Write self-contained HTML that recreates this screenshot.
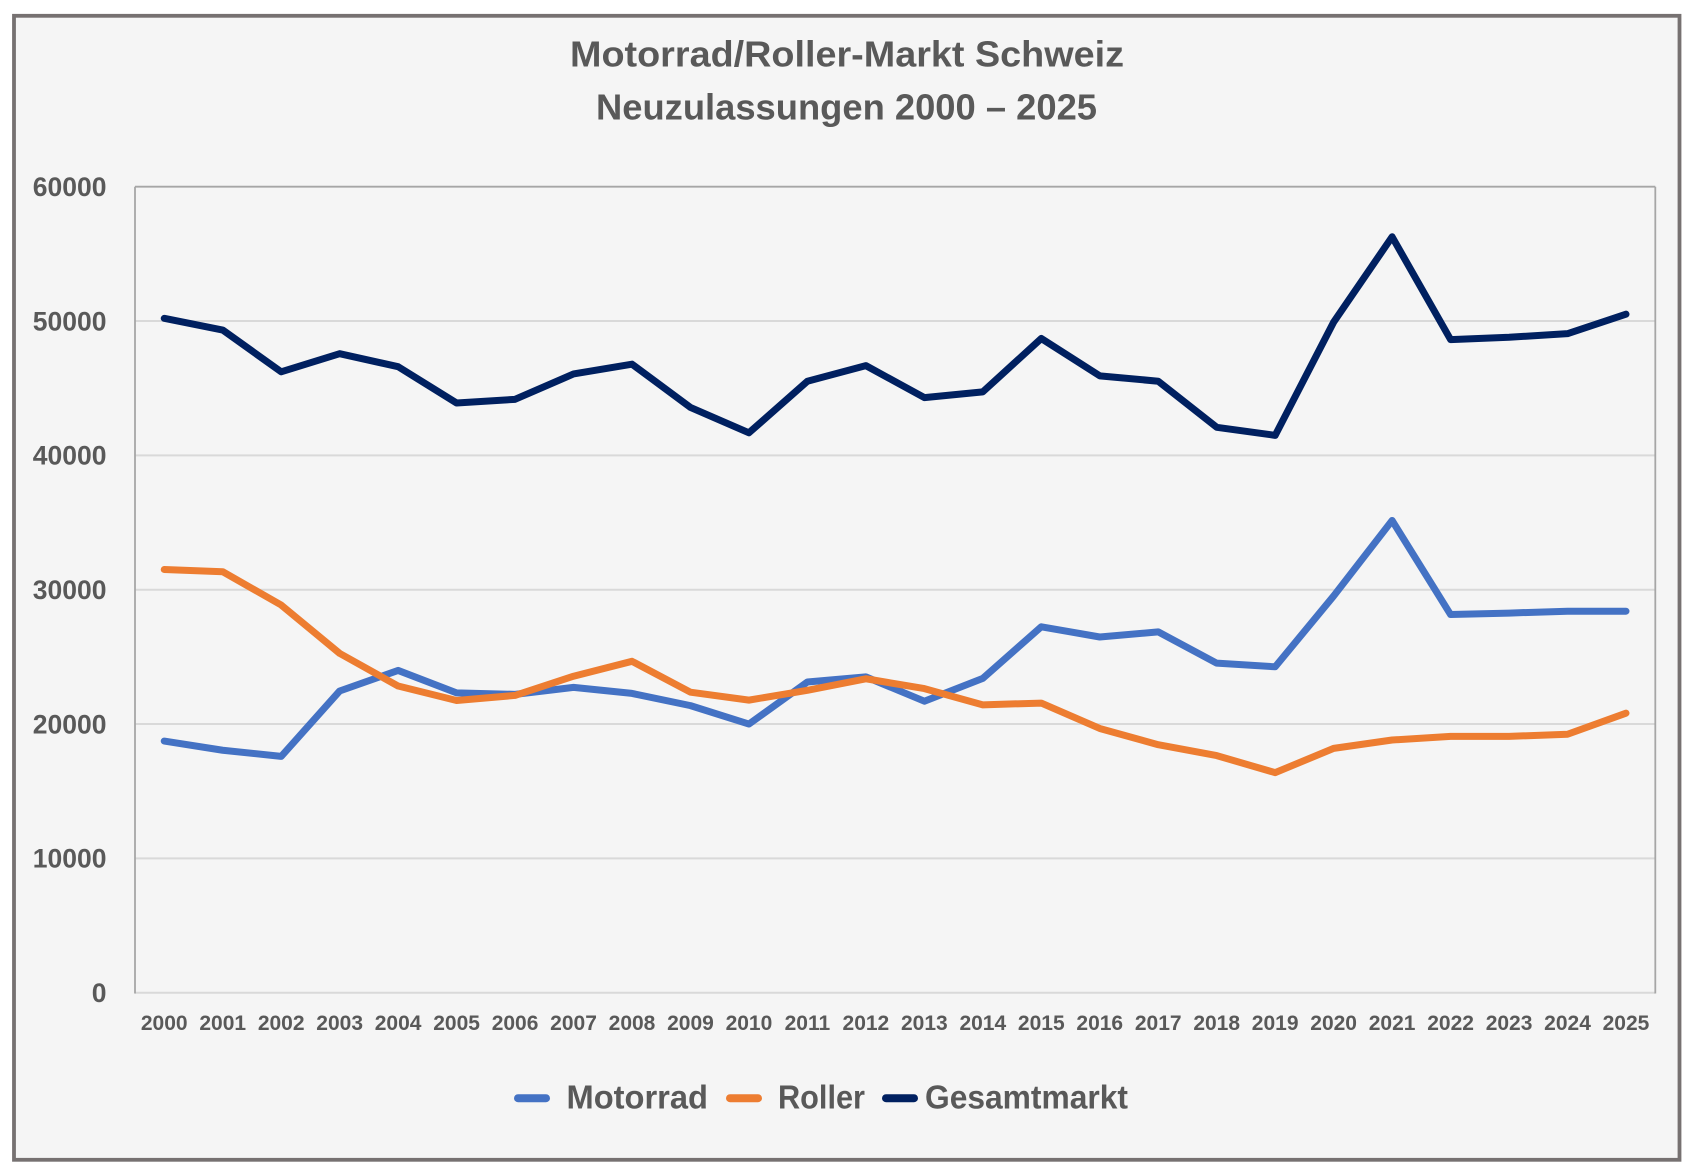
<!DOCTYPE html>
<html>
<head>
<meta charset="utf-8">
<style>
html,body{margin:0;padding:0;background:#ffffff;}
svg{display:block;}
text{font-family:"Liberation Sans",Arial,sans-serif;font-weight:bold;fill:#595959;}
</style>
</head>
<body>
<svg width="1696" height="1174" viewBox="0 0 1696 1174" xmlns="http://www.w3.org/2000/svg">
  <rect x="0" y="0" width="1696" height="1174" fill="#ffffff"/>
  <rect x="14" y="15.8" width="1665.5" height="1144" fill="#f5f5f5" stroke="#767171" stroke-width="3.8"/>

  <!-- Title -->
  <text x="847" y="66.7" font-size="36.5" text-anchor="middle" textLength="554" lengthAdjust="spacingAndGlyphs">Motorrad/Roller-Markt Schweiz</text>
  <text x="846.5" y="119.3" font-size="36" text-anchor="middle" textLength="501" lengthAdjust="spacingAndGlyphs">Neuzulassungen 2000 – 2025</text>

  <!-- Gridlines -->
  <g stroke="#d9d9d9" stroke-width="2" fill="none">
    <line x1="135" y1="858.37" x2="1655" y2="858.37"/>
    <line x1="135" y1="724.03" x2="1655" y2="724.03"/>
    <line x1="135" y1="589.70" x2="1655" y2="589.70"/>
    <line x1="135" y1="455.37" x2="1655" y2="455.37"/>
    <line x1="135" y1="321.03" x2="1655" y2="321.03"/>
    <line x1="135" y1="992.7" x2="1655" y2="992.7"/>
  </g>
  <!-- Plot border -->
  <g stroke="#a6a6a6" stroke-width="1.8" fill="none">
    <line x1="135" y1="186.7" x2="1655.3" y2="186.7"/>
    <line x1="135" y1="186.7" x2="135" y2="993.5"/>
    <line x1="1655.3" y1="186.7" x2="1655.3" y2="993.5"/>
  </g>

  <!-- Y labels -->
  <g font-size="26.5" text-anchor="end">
    <text x="106.5" y="1002">0</text>
    <text x="106.5" y="867.6">10000</text>
    <text x="106.5" y="733.3">20000</text>
    <text x="106.5" y="599">30000</text>
    <text x="106.5" y="464.6">40000</text>
    <text x="106.5" y="330.3">50000</text>
    <text x="106.5" y="196">60000</text>
  </g>

  <!-- X labels -->
  <g font-size="21" text-anchor="middle">
    <text x="164.24" y="1030">2000</text>
    <text x="222.71" y="1030">2001</text>
    <text x="281.18" y="1030">2002</text>
    <text x="339.65" y="1030">2003</text>
    <text x="398.12" y="1030">2004</text>
    <text x="456.59" y="1030">2005</text>
    <text x="515.06" y="1030">2006</text>
    <text x="573.53" y="1030">2007</text>
    <text x="632.00" y="1030">2008</text>
    <text x="690.47" y="1030">2009</text>
    <text x="748.94" y="1030">2010</text>
    <text x="807.41" y="1030">2011</text>
    <text x="865.88" y="1030">2012</text>
    <text x="924.35" y="1030">2013</text>
    <text x="982.82" y="1030">2014</text>
    <text x="1041.29" y="1030">2015</text>
    <text x="1099.76" y="1030">2016</text>
    <text x="1158.23" y="1030">2017</text>
    <text x="1216.70" y="1030">2018</text>
    <text x="1275.17" y="1030">2019</text>
    <text x="1333.64" y="1030">2020</text>
    <text x="1392.11" y="1030">2021</text>
    <text x="1450.58" y="1030">2022</text>
    <text x="1509.05" y="1030">2023</text>
    <text x="1567.52" y="1030">2024</text>
    <text x="1625.99" y="1030">2025</text>
  </g>

  <!-- Series -->
  <g fill="none" stroke-width="7" stroke-linejoin="round" stroke-linecap="round">
    <polyline stroke="#4472C4" points="164.24,741.09 222.71,750.23 281.18,756.41 339.65,690.99 398.12,670.43 456.59,692.87 515.06,694.35 573.53,687.36 632.00,693.41 690.47,705.63 748.94,724.03 807.41,681.99 865.88,676.88 924.35,701.20 982.82,678.36 1041.29,626.78 1099.76,636.99 1158.23,631.88 1216.70,663.18 1275.17,666.81 1333.64,596.01 1392.11,520.52 1450.58,614.55 1509.05,613.07 1567.52,611.19 1625.99,611.19"/>
    <polyline stroke="#ED7D31" points="164.24,569.55 222.71,571.70 281.18,605.01 339.65,653.37 398.12,686.02 456.59,700.53 515.06,695.42 573.53,676.21 632.00,661.30 690.47,692.20 748.94,700.12 807.41,690.32 865.88,678.76 924.35,688.57 982.82,704.82 1041.29,703.08 1099.76,728.47 1158.23,744.72 1216.70,755.60 1275.17,772.66 1333.64,748.35 1392.11,740.02 1450.58,736.39 1509.05,736.39 1567.52,734.24 1625.99,713.15"/>
    <polyline stroke="#002060" points="164.24,318.35 222.71,330.03 281.18,371.81 339.65,353.68 398.12,366.71 456.59,402.98 515.06,399.35 573.53,373.96 632.00,364.15 690.47,407.41 748.94,432.80 807.41,381.22 865.88,365.63 924.35,397.60 982.82,391.83 1041.29,338.50 1099.76,375.84 1158.23,381.22 1216.70,427.29 1275.17,435.35 1333.64,322.11 1392.11,236.81 1450.58,339.57 1509.05,337.29 1567.52,333.66 1625.99,314.18"/>
  </g>

  <!-- Legend -->
  <g stroke-width="8" stroke-linecap="round">
    <line x1="518" y1="1098.2" x2="546" y2="1098.2" stroke="#4472C4"/>
    <line x1="730" y1="1098.2" x2="758" y2="1098.2" stroke="#ED7D31"/>
    <line x1="886" y1="1098.2" x2="914" y2="1098.2" stroke="#002060"/>
  </g>
  <g font-size="33">
    <text x="566.5" y="1108.3" textLength="141.5" lengthAdjust="spacingAndGlyphs">Motorrad</text>
    <text x="778" y="1108.3" textLength="87" lengthAdjust="spacingAndGlyphs">Roller</text>
    <text x="925" y="1108.3" textLength="203" lengthAdjust="spacingAndGlyphs">Gesamtmarkt</text>
  </g>
</svg>
</body>
</html>
